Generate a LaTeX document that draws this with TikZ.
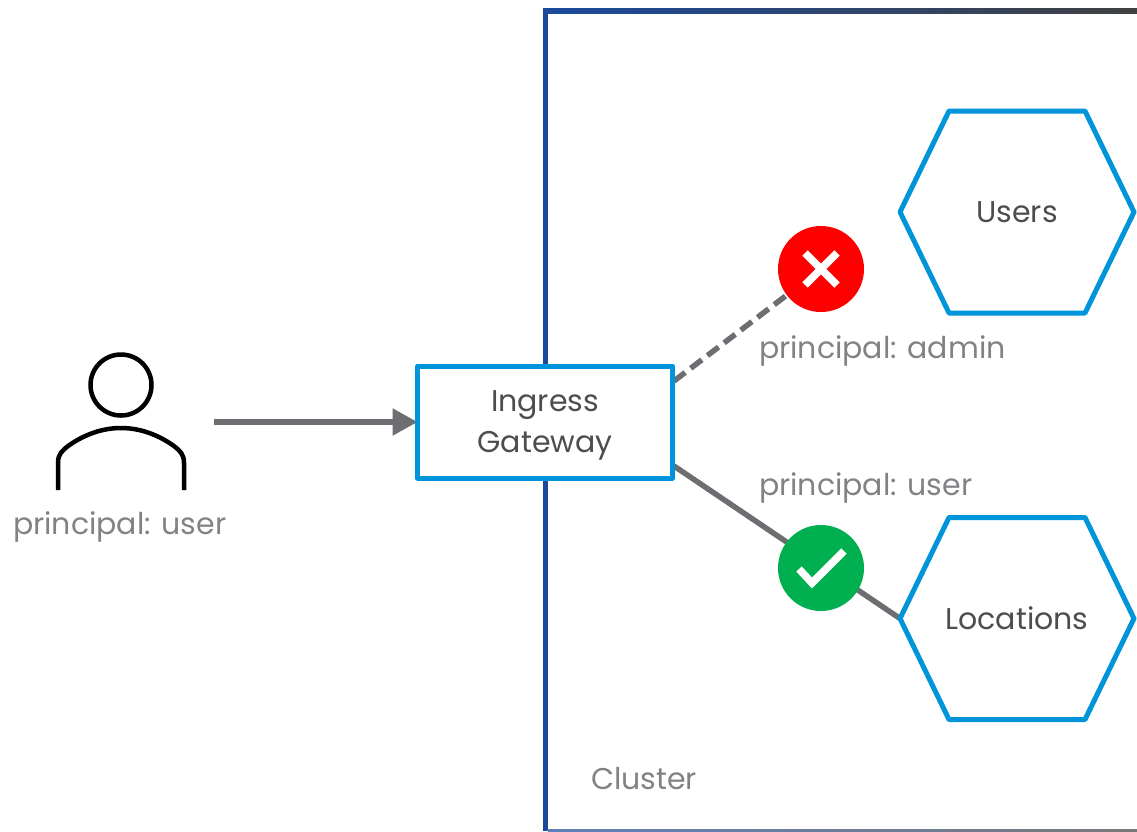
\documentclass[tikz,border=0pt]{standalone}
\usepackage{fontspec}
\setmainfont{Poppins}
\usetikzlibrary{arrows.meta,backgrounds,shadings}
\definecolor{clusterblue}{HTML}{1B4A9C}
\definecolor{clustergray}{HTML}{404040}
\definecolor{boxblue}{HTML}{0095DA}
\definecolor{linegray}{HTML}{6D6E71}
\definecolor{labelgray}{HTML}{808285}
\definecolor{nodetext}{HTML}{4D4D4D}
\definecolor{badred}{HTML}{FF0000}
\definecolor{goodgreen}{HTML}{00B050}
\tikzset{
  x=1pt,y=-1pt,
  every node/.style={inner sep=0pt,outer sep=0pt},
  labeltext/.style={anchor=base west,text=labelgray,font=\fontsize{30}{38}\selectfont},
  nodelabel/.style={text=nodetext,font=\fontsize{30}{41}\selectfont,align=center},
  hexline/.style={draw=boxblue,line width=5pt,line join=round,fill=white},
  gatebox/.style={rectangle,draw=boxblue,line width=5pt,line join=round,fill=white,minimum width=255pt,minimum height=112pt},
  badge/.style={circle,minimum size=86pt},
  conn/.style={draw=linegray,line width=5.5pt},
  iconstroke/.style={draw=white,line width=7.5pt}
}
\begin{document}
\begin{tikzpicture}
\useasboundingbox (0,0) rectangle (1137,831);
% cluster frame
\begin{scope}[on background layer]
\fill[left color=clusterblue,right color=clustergray] (543,8.5) rectangle (1137,13);
\fill[clusterblue] (543,8.5) rectangle (547.5,831);
\fill[left color=clusterblue!70!white,right color=clustergray!70!white] (547.5,829.5) rectangle (1137,831);
\end{scope}
\node[labeltext] (clusterlabel) at (591,789) {Cluster};
% user
\node[circle,draw=black,line width=4.5pt,minimum size=61pt] (head) at (121,385) {};
\draw[black,line width=4.5pt] (58,490) -- (58,463) .. controls (58,454) and (62,451) .. (68,446) .. controls (85,434) and (103,428) .. (121,428) .. controls (139,428) and (157,434) .. (174,446) .. controls (180,451) and (184,454) .. (184,463) -- (184,490);
\node[labeltext] (userlabel) at (13,534) {principal: user};
\coordinate (arrowstart) at (214,422);
% gateway and services
\node[gatebox] (gw) at (545,422) {};
\node[nodelabel] (gwlabel) at (545,425) {Ingress\\Gateway};
\draw[hexline,shift={(1017,212)}] (-117,0) -- (-68,-101) -- (68,-101) -- (117,0) -- (68,101) -- (-68,101) -- cycle;
\draw[hexline,shift={(1017,618.5)}] (-117,0) -- (-68,-101) -- (68,-101) -- (117,0) -- (68,101) -- (-68,101) -- cycle;
\node[nodelabel] (users) at (1017,212) {Users};
\node[nodelabel] (loc) at (1017,618.5) {Locations};
\coordinate (locwest) at (900,618.5);
\coordinate (gwup) at (674,381);
\coordinate (gwdown) at (674,466);
\node[badge,fill=badred] (deny) at (821,269) {};
\node[badge,fill=goodgreen] (allow) at (821,568) {};
\begin{scope}[on background layer]
\draw[conn,-{Triangle[length=25pt,width=26pt]}] (arrowstart) -- (gw.west);
\draw[conn,dash pattern=on 14pt off 7pt] (gwup) -- (deny.center);
\draw[conn] (gwdown) -- (locwest);
\end{scope}
\draw[iconstroke] (805,253) -- (837,285) (805,285) -- (837,253);
\draw[iconstroke,line join=miter] (799,569) -- (812,583) -- (844,551);
\node[labeltext] (adminlabel) at (759,358) {principal: admin};
\node[labeltext] (userlabel2) at (759,495) {principal: user};
\end{tikzpicture}
\end{document}
